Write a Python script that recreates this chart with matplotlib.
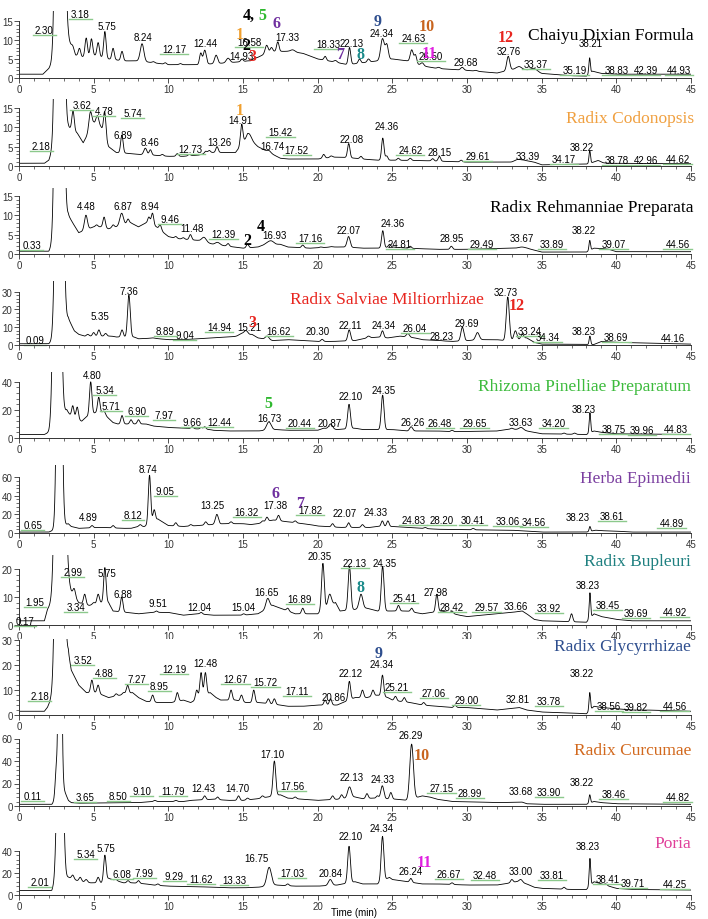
import numpy as np
import matplotlib
matplotlib.use('Agg')
import matplotlib.pyplot as plt
from matplotlib.ticker import MultipleLocator, FixedLocator
from matplotlib.transforms import offset_copy

# ---- Chaiyu Dixian Formula ----
chaiyu_base_t = [0, 1.6, 2.0, 3.3, 3.8, 4.2, 5.0, 6.0, 7.0, 8.0, 9.0, 10.0, 12.0, 14.0, 15.5, 16.3, 17.0, 18.0, 19.0,
                 20.0, 21.0, 22.0, 23.0, 24.0, 25.0, 26.0, 27.0, 28.0, 30.0, 32.0, 33.3, 34.3, 35.0, 37.0, 38.0, 38.4,
                 39.0, 40.0, 45.0]
chaiyu_base_v = [1.0, 1.0, 2.5, 10.0, 6.0, 5.5, 6.0, 5.0, 4.5, 4.5, 4.0, 3.5, 3.5, 4.0, 4.5, 6.0, 7.0, 7.0, 6.5,
                 5.0, 4.3, 3.5, 4.0, 4.5, 5.0, 4.5, 3.2, 2.5, 2.0, 1.3, 2.5, 2.0, 1.2, 0.6, 0.5, 1.8,
                 1.2, 1.0, 1.0]
chaiyu_solvent = [(2.75, 300, 0.18)]
chaiyu_peaks = [(3.6, 8.5), (4.05, 7.8), (4.5, 10.5), (4.85, 10.3), (5.3, 9.3), (5.75, 12.2), (6.3, 7.8), (6.9, 7.0),
                (8.24, 9.0, 0.12), (9.0, 4.3), (9.8, 4.0), (10.8, 3.8), (12.17, 6.5), (12.44, 7.3, 0.1),
                (13.2, 6.0, 0.1), (14.0, 5.2, 0.12), (14.93, 5.0), (15.3, 4.5), (15.75, 5.2, 0.1), (16.58, 8.6, 0.1),
                (16.9, 8.0), (17.33, 9.5), (18.33, 7.4, 0.15), (20.5, 5.7), (21.2, 4.6, 0.1), (22.13, 8.0),
                (22.8, 5.0), (23.4, 5.0), (24.34, 10.3, 0.12), (24.63, 8.7, 0.1), (26.3, 7.4, 0.1), (26.55, 6.0),
                (27.0, 4.0, 0.1), (28.1, 2.8, 0.1), (29.68, 2.8, 0.1), (30.6, 2.0, 0.1), (32.76, 5.7, 0.1),
                (33.5, 3.0, 0.15), (34.5, 2.5, 0.2), (38.21, 5.3, 0.05)]
chaiyu_labels = [('2.30', 1.7, 12.7, 1), ('3.18', 4.1, 16.9, 1), ('5.75', 5.9, 13.6, 0), ('8.24', 8.3, 10.8, 0),
                 ('12.17', 10.4, 7.7, 1), ('12.44', 12.5, 9.2, 0), ('16.58', 15.4, 9.4, 1), ('14.93', 14.9, 5.9, 0),
                 ('17.33', 18.0, 10.9, 0), ('18.33', 20.7, 9.0, 1), ('22.13', 22.3, 9.2, 0), ('24.34', 24.3, 11.9, 0),
                 ('24.63', 26.4, 10.6, 1), ('26.50', 27.6, 5.9, 1), ('29.68', 29.9, 4.1, 0), ('32.76', 32.8, 7.2, 0),
                 ('33.37', 34.6, 3.7, 1), ('35.19', 37.2, 2.2, 1), ('38.21', 38.3, 9.2, 0), ('38.83', 40.0, 2.1, 1),
                 ('42.39', 42.0, 2.1, 1), ('44.93', 44.2, 2.1, 1)]
chaiyu_marks = [('4,', 15.4, 16.5, 'black'), ('5', 16.3, 16.5, '#2EB82E'), ('1', 14.8, 11.6, '#F0A030'),
                ('2', 15.25, 8.8, 'black'), ('3', 15.65, 5.9, '#E8251F'), ('6', 17.25, 14.5, '#7030A0'),
                ('7', 21.5, 6.4, '#7030A0'), ('8', 22.9, 6.4, '#1A8A8A'), ('9', 24.0, 14.9, '#2E4E8E'),
                ('10', 27.3, 13.6, '#C8641E'), ('11', 27.5, 6.5, '#E020E0'), ('12', 32.6, 10.8, '#E8251F')]

# ---- Radix Codonopsis ----
codon_base_t = [0, 1.7, 2.0, 2.2, 3.3, 3.9, 4.3, 5.0, 5.5, 6.0, 6.5, 7.5, 8.0, 9.0, 10.0, 11.0, 12.0, 12.8, 13.5, 14.5,
                15.3, 16.0, 17.0, 17.5, 18.0, 20.0, 21.0, 22.0, 23.0, 24.0, 25.0, 27.0, 28.5, 30.0, 33.0, 33.8, 34.5,
                35.0, 38.0, 38.5, 39.5, 45]
codon_base_v = [0.7, 0.7, 1.5, 3.5, 10, 8.5, 6, 11, 10, 5, 3.5, 3.2, 3, 2.8, 2.5, 2.5, 2.8, 3.5, 3.5, 3.5,
                7.5, 5, 3, 2, 1.8, 1.8, 2.3, 2.2, 1.8, 1.5, 1.5, 1.4, 1.2, 1.0, 1.0, 1.5, 1.0,
                0.3, 0.5, 1.0, 0.7, 0.6]
codon_solvent = [(2.72, 300, 0.17)]
codon_peaks = [(3.62, 14.2), (4.78, 14.0, 0.1), (5.25, 13.0, 0.1), (5.74, 14.0), (6.89, 8.0), (8.46, 4.6, 0.1),
               (8.8, 4.2), (9.6, 3.0), (10.6, 3.2), (11.4, 3.0), (12.5, 3.8), (12.73, 4.0), (13.26, 5.0),
               (14.91, 10.8), (15.42, 8.3, 0.15), (16.74, 4.0, 0.12), (20.4, 3.0), (20.9, 2.6), (22.08, 5.8),
               (22.9, 2.5), (24.36, 7.2), (24.62, 2.6), (25.4, 2.0), (26.2, 2.0), (27.7, 1.9), (28.15, 2.5),
               (29.61, 1.5), (33.39, 1.7, 0.2), (38.22, 4.0, 0.05), (38.78, 1.4, 0.15)]
codon_labels = [('2.18', 1.5, 5.1, 1), ('3.62', 4.2, 15.8, 1), ('4.78', 5.7, 14.3, 1), ('5.74', 7.6, 13.6, 1),
                ('6.89', 6.95, 8.0, 0), ('8.46', 8.8, 6.1, 0), ('12.73', 11.5, 4.3, 1), ('13.26', 13.4, 6.1, 0),
                ('14.91', 14.8, 11.9, 0), ('15.42', 17.5, 8.8, 1), ('16.74', 17.0, 5.2, 0), ('17.52', 18.6, 4.1, 1),
                ('22.08', 22.3, 7.1, 0), ('24.36', 24.6, 10.3, 0), ('24.62', 26.2, 4.1, 1), ('28.15', 28.2, 3.5, 0),
                ('29.61', 30.7, 2.5, 1), ('33.39', 34.1, 2.7, 0), ('34.17', 36.5, 1.8, 1), ('38.22', 37.7, 4.9, 0),
                ('38.78', 40.0, 1.5, 1), ('42.96', 42.0, 1.5, 1), ('44.62', 44.1, 1.8, 1)]
codon_marks = [('1', 14.8, 14.4, '#F0A030')]

# ---- Radix Rehmanniae Preparata ----
rehm_base_t = [0, 2.0, 2.2, 3.3, 3.6, 4.0, 5.0, 5.5, 6.0, 7.5, 8.0, 8.5, 9.2, 10.0, 10.5, 12.0, 13.0, 14.0, 15.0, 16.0,
               16.5, 17.5, 18.0, 19.5, 21.0, 22.0, 23.0, 24.0, 25.0, 26.0, 28.0, 30.0, 33.0, 34.0, 35.0, 38.0, 38.5,
               39.5, 40.0, 45]
rehm_base_v = [0.7, 0.7, 2.0, 10, 8, 5.5, 7, 7, 6.5, 8, 7, 8, 7, 4.5, 4, 3.5, 2.5, 2.0, 1.5, 1.8,
               2.5, 2.5, 1.8, 1.5, 1.8, 1.8, 1.5, 1.5, 1.8, 1.5, 1.2, 1.2, 1.5, 1.5, 0.5, 0.5, 1.5,
               1.2, 0.6, 0.6]
rehm_solvent = [(2.7, 300, 0.17)]
rehm_peaks = [(4.48, 10.0, 0.1), (5.2, 7.5), (5.7, 9.5), (6.3, 7.5), (6.87, 10.5, 0.12), (7.3, 9.0), (8.7, 9.5),
              (8.94, 10.5), (9.46, 7.5), (10.5, 4.5), (11.0, 4.2), (11.48, 5.0), (12.39, 4.3, 0.15),
              (13.3, 3.0, 0.15), (14.0, 2.7), (15.3, 2.5), (16.7, 3.0, 0.15), (16.93, 3.2, 0.15), (19.0, 2.3),
              (20.2, 1.8), (20.9, 1.9, 0.1), (22.07, 4.5, 0.1), (24.36, 6.0), (24.81, 2.5), (26.2, 2.0),
              (28.95, 2.0), (33.67, 1.8, 0.2), (38.22, 3.5, 0.05), (39.07, 1.4, 0.2)]
rehm_labels = [('0.33', 0.85, 2.3, 1), ('4.48', 4.5, 12.3, 0), ('6.87', 6.96, 12.3, 0), ('8.94', 8.8, 12.3, 0),
               ('9.46', 10.1, 9.0, 1), ('11.48', 11.6, 6.6, 0), ('12.39', 13.7, 5.2, 1), ('16.93', 17.1, 4.8, 0),
               ('17.16', 19.5, 4.1, 1), ('22.07', 22.1, 6.1, 0), ('24.36', 25.0, 7.9, 0), ('24.81', 25.5, 2.7, 1),
               ('28.95', 29.0, 4.1, 0), ('29.49', 31.0, 2.7, 1), ('33.67', 33.7, 4.1, 0), ('33.89', 35.7, 2.7, 1),
               ('38.22', 37.8, 6.1, 0), ('39.07', 39.8, 2.7, 1), ('44.56', 44.1, 2.5, 1)]
rehm_marks = [('2', 15.3, 3.6, 'black'), ('4', 16.2, 7.2, 'black')]

# ---- Radix Salviae Miltiorrhizae ----
salv_base_t = [0, 2.0, 2.2, 3.3, 3.7, 4.0, 4.4, 5.5, 6.2, 6.5, 7.7, 8.0, 9.0, 10.0, 11.0, 12.0, 13.0, 14.0, 15.0, 15.6,
               16.0, 17.0, 18.0, 19.0, 20.0, 21.0, 22.5, 23.0, 23.5, 24.0, 24.7, 25.5, 26.5, 27.0, 28.0, 29.0, 30.0,
               31.0, 32.0, 32.5, 33.5, 34.0, 34.5, 35.0, 38.0, 38.5, 39.0, 40.0, 45]
salv_base_v = [0.7, 0.7, 2.0, 15, 8, 6, 5, 5, 5, 4.5, 4.5, 3.5, 3.8, 3, 3, 3.5, 4, 4.5, 5, 6,
               4, 2.5, 3, 2.5, 2, 2, 2.5, 3.5, 4, 4.5, 4, 5, 4, 3, 2.5, 2, 2.5,
               3, 3, 2.5, 3, 4, 1.5, 0.5, 0.3, 0.3, 2, 1.5, 0.5]
salv_solvent = [(2.7, 400, 0.17)]
salv_peaks = [(4.6, 6.0), (5.0, 7.0), (5.35, 8.5), (5.8, 6.5), (6.9, 8.5), (7.36, 28.0, 0.09), (8.9, 4.0, 0.15),
              (14.94, 6.5, 0.2), (15.21, 7.5, 0.12), (16.62, 5.0, 0.12), (20.3, 3.2), (22.11, 8.5, 0.09),
              (23.4, 5.0, 0.1), (24.34, 8.0), (26.04, 6.5, 0.1), (28.23, 2.5), (29.69, 10.0, 0.1), (30.7, 7.0, 0.12),
              (32.73, 27.0, 0.1), (33.24, 8.0, 0.1), (33.7, 6.0, 0.1), (38.23, 5.0, 0.05)]
salv_labels = [('0.09', 1.07, 2.8, 1), ('5.35', 5.43, 16.4, 0), ('7.36', 7.38, 30.2, 0), ('8.89', 9.8, 7.9, 1),
               ('9.04', 11.1, 5.6, 1), ('14.94', 13.4, 9.9, 1), ('15.21', 15.4, 9.9, 0), ('16.62', 17.4, 7.6, 1),
               ('20.30', 20.0, 7.6, 0), ('22.11', 22.2, 11.1, 0), ('24.34', 24.4, 11.1, 0), ('26.04', 26.5, 9.4, 1),
               ('28.23', 28.3, 4.9, 0), ('29.69', 30.0, 12.5, 0), ('32.73', 32.6, 30.0, 0), ('33.24', 34.2, 8.1, 1),
               ('34.34', 35.4, 4.6, 1), ('38.23', 37.8, 8.1, 0), ('38.69', 40.0, 4.6, 1), ('44.16', 43.8, 3.7, 0)]
salv_marks = [('3', 15.6, 12.9, '#E8251F'), ('12', 33.3, 22.6, '#E8251F')]

# ---- Rhizoma Pinelliae Preparatum ----
pin_base_t = [0, 1.7, 2.0, 2.3, 3.2, 3.5, 4.2, 4.5, 5.1, 5.6, 6.0, 6.3, 6.6, 7.2, 7.8, 8.5, 9.0, 10.0, 11.0, 12.8,
              13.0, 14.0, 16.0, 17.2, 18.0, 20.0, 20.4, 21.3, 22.5, 23.0, 24.0, 25.0, 26.0, 27.0, 28.0, 29.0, 31.0,
              32.0, 33.0, 34.0, 34.5, 35.0, 38.0, 38.5, 39.0, 40.0, 45]
pin_base_v = [2.5, 2.5, 4, 8, 20, 15, 12, 15, 18, 18, 14, 11, 10, 10, 10, 10, 8.5, 7.5, 7, 6,
              5.5, 5, 5, 6, 5.5, 5.5, 7, 6, 7, 6, 6, 6, 5, 5, 5, 4.5, 4.8,
              5, 6.5, 5, 4, 3, 2.5, 5, 4, 3, 2.5]
pin_solvent = [(2.55, 400, 0.17)]
pin_peaks = [(3.6, 23), (3.9, 22), (4.8, 40), (5.34, 29), (5.71, 19), (6.9, 16), (7.5, 13), (8.0, 13), (11.6, 8),
             (12.2, 7.5), (12.44, 8), (16.73, 11.5, 0.15), (20.87, 10, 0.12), (22.1, 24, 0.09), (24.35, 30.5, 0.09),
             (26.26, 8, 0.1), (29.0, 5.5), (33.0, 7), (33.63, 7.5, 0.15), (36.5, 3.5), (37.2, 3.5),
             (38.23, 18, 0.05)]
pin_labels = [('4.80', 4.88, 44.8, 0), ('5.34', 5.73, 34.5, 1), ('5.71', 6.16, 22.9, 1), ('6.90', 7.87, 19.3, 1),
              ('7.97', 9.7, 16.4, 1), ('9.66', 11.6, 11.6, 1), ('12.44', 13.4, 11.6, 1), ('16.73', 16.8, 14.0, 0),
              ('20.44', 18.8, 10.8, 1), ('20.87', 20.8, 10.8, 0), ('22.10', 22.2, 29.6, 0), ('24.35', 24.4, 34.5, 0),
              ('26.26', 26.4, 11.6, 0), ('26.48', 28.2, 10.8, 1), ('29.65', 30.5, 10.8, 1), ('33.63', 33.6, 11.6, 0),
              ('34.20', 35.8, 10.8, 1), ('38.23', 37.8, 20.7, 0), ('38.75', 39.8, 6.3, 1), ('39.96', 41.7, 5.5, 1),
              ('44.83', 44.0, 6.3, 1)]
pin_marks = [('5', 16.7, 24.8, '#2EB82E')]

# ---- Herba Epimedii ----
epi_base_t = [0, 2.0, 2.3, 3.3, 3.5, 4.0, 5.5, 7.0, 7.5, 8.0, 8.4, 9.3, 9.6, 10.0, 11.0, 12.0, 13.7, 15.0, 15.5, 16.0,
              17.0, 18.0, 19.0, 19.5, 20.0, 21.5, 23.5, 24.0, 25.0, 26.0, 27.0, 28.0, 30.0, 33.0, 34.0, 35.0, 38.0,
              38.6, 39.0, 40.0, 41.0, 45]
epi_base_v = [1, 1, 3, 10, 7, 5, 6, 5, 5, 7, 7, 15, 12, 8, 7, 8, 10, 10, 9, 10,
              14, 12, 10, 9, 7.5, 6, 6, 7, 7, 6, 5, 4, 3.5, 3, 2, 1, 1,
              3, 2.5, 2, 1, 1]
epi_solvent = [(2.7, 500, 0.13)]
epi_peaks = [(4.89, 8), (6.3, 8), (8.12, 9), (8.74, 62), (9.05, 25), (10.5, 11), (11.5, 9), (12.5, 12),
             (13.25, 20, 0.1), (14.2, 12), (16.32, 13), (16.6, 17), (17.38, 19), (18.5, 13), (21.0, 10), (22.07, 11),
             (23.0, 9), (24.33, 13), (24.7, 13), (27.2, 6), (30.41, 5), (38.23, 7, 0.05)]
epi_labels = [('0.65', 0.92, 8.1, 1), ('4.89', 4.64, 17.4, 0), ('8.12', 7.63, 19.5, 1), ('8.74', 8.63, 68.2, 0),
              ('9.05', 9.8, 45.2, 1), ('13.25', 12.97, 29.6, 0), ('16.32', 15.25, 22.7, 1), ('17.38', 17.2, 29.6, 0),
              ('17.82', 19.5, 24.3, 1), ('22.07', 21.8, 21.5, 0), ('24.33', 23.9, 22.7, 0), ('24.83', 26.4, 14.2, 1),
              ('28.20', 28.3, 14.2, 1), ('30.41', 30.4, 14.2, 1), ('33.06', 32.7, 12.6, 1), ('34.56', 34.5, 11.4, 1),
              ('38.23', 37.4, 17.4, 0), ('38.61', 39.7, 18.2, 1), ('44.89', 43.7, 10.5, 1)]
epi_marks = [('6', 17.2, 43, '#7030A0'), ('7', 18.8, 32.4, '#7030A0')]

# ---- Radix Bupleuri ----
bup_base_t = [0, 1.7, 1.9, 2.2, 3.3, 3.5, 4.0, 4.7, 5.5, 6.0, 6.3, 7.2, 8.0, 9.0, 10.0, 11.0, 12.0, 13.0, 15.0, 16.0,
              17.0, 18.5, 20.0, 21.2, 21.5, 23.3, 24.0, 25.2, 26.0, 27.0, 28.3, 29.5, 30.0, 31.0, 33.0, 33.7, 34.0,
              34.5, 35.0, 38.0, 38.5, 39.0, 40.0, 41.0, 45]
bup_base_v = [1.5, 1.5, 5.5, 8, 15, 12, 8, 7, 8, 8, 5, 4.5, 4, 4.5, 4.5, 3.5, 4, 3.5, 3.5, 4,
              7, 4, 4, 8, 5, 6, 5, 5, 5, 4, 5, 3.5, 3, 3.5, 4.5, 5, 4,
              2, 1.5, 1, 4, 3, 2, 1.5, 1.5]
bup_solvent = [(2.75, 300, 0.2)]
bup_peaks = [(3.7, 13), (4.4, 11), (5.0, 8), (5.3, 11), (5.75, 20.5), (6.88, 10), (9.2, 5), (12.2, 4.5), (15.04, 4),
             (16.65, 9.5, 0.12), (17.5, 6), (18.0, 6), (19.0, 6), (20.35, 22, 0.09), (20.8, 11, 0.12),
             (22.13, 21, 0.09), (22.9, 11, 0.12), (24.35, 21, 0.09), (25.41, 7), (26.3, 6), (27.98, 11), (29.0, 5),
             (37.0, 4), (38.23, 11.5, 0.05)]
bup_labels = [('0.17', 0.4, 1.4, 1), ('1.95', 1.07, 8.1, 1), ('2.99', 3.6, 19.0, 1), ('3.34', 3.8, 6.5, 1),
              ('5.75', 5.86, 18.6, 0), ('6.88', 6.95, 11.2, 0), ('9.51', 9.3, 7.75, 0), ('12.04', 12.05, 6.5, 0),
              ('15.04', 15.0, 6.5, 0), ('16.65', 16.6, 11.9, 0), ('16.89', 18.8, 9.3, 1), ('20.35', 20.1, 24.6, 0),
              ('22.13', 22.5, 22.3, 1), ('24.35', 24.5, 22.3, 0), ('25.41', 25.8, 9.6, 1), ('27.98', 27.9, 11.9, 0),
              ('28.42', 29.0, 6.5, 1), ('29.57', 31.3, 6.5, 1), ('33.66', 33.3, 6.8, 0), ('33.92', 35.5, 6.2, 1),
              ('38.23', 38.1, 14.3, 0), ('38.45', 39.4, 7.3, 1), ('39.69', 41.3, 4.2, 1), ('44.92', 43.9, 4.5, 1)]
bup_marks = [('8', 22.9, 13.4, '#1A8A8A')]

# ---- Radix Glycyrrhizae ----
gly_base_t = [0, 1.7, 1.9, 2.2, 3.3, 3.5, 4.0, 4.5, 5.1, 5.6, 6.0, 7.6, 8.0, 8.5, 9.3, 10.2, 11.0, 11.5, 12.8, 13.2,
              13.5, 14.5, 15.2, 16.0, 17.5, 18.0, 19.0, 20.0, 21.3, 22.5, 23.3, 24.0, 24.7, 25.0, 25.5, 26.2, 27.0,
              28.0, 29.0, 30.0, 31.0, 32.0, 33.5, 34.0, 35.0, 36.0, 37.0, 38.0, 38.5, 39.0, 40.0, 41.0, 42.0, 45]
gly_base_v = [1.5, 1.5, 3, 7, 25, 18, 12, 9, 9, 8, 7, 9, 7, 5.5, 5, 5, 6, 5, 9, 7,
              6, 6, 5, 5, 4, 3.5, 3.5, 4, 4, 7, 7, 8, 7, 6, 5.5, 5, 4,
              3.5, 3, 3, 2.5, 2, 3, 2, 1.2, 1, 0.8, 0.5, 3.5, 3, 2.5, 2, 2, 1.5]
gly_solvent = [(2.72, 300, 0.18)]
gly_peaks = [(4.88, 14), (5.3, 12), (6.5, 8.5), (7.0, 9), (7.27, 12), (8.95, 8), (10.6, 9), (11.9, 10), (12.19, 17),
             (12.48, 17), (14.2, 10), (14.9, 8), (15.72, 10), (16.7, 6.5), (17.1, 6.5), (20.5, 6), (20.86, 6.5),
             (22.12, 13.5), (23.0, 10), (23.7, 10), (24.34, 16), (25.21, 7.5), (25.8, 7), (27.1, 5), (29.2, 4),
             (38.22, 9, 0.05)]
gly_labels = [('2.18', 1.37, 7.8, 1), ('3.52', 4.27, 21.9, 1), ('4.88', 5.73, 17.0, 1), ('7.27', 7.87, 14.4, 1),
              ('8.95', 9.4, 11.5, 1), ('12.19', 10.4, 18.5, 1), ('12.48', 12.5, 20.7, 0), ('12.67', 14.5, 14.4, 1),
              ('15.72', 16.5, 13.3, 1), ('17.11', 18.6, 9.6, 1), ('20.86', 21.05, 7.4, 0), ('22.12', 22.2, 17.0, 0),
              ('24.34', 24.25, 20.4, 0), ('25.21', 25.3, 11.1, 1), ('27.06', 27.8, 8.7, 1), ('29.00', 29.95, 5.9, 1),
              ('32.81', 33.4, 6.5, 0), ('33.78', 35.5, 5.6, 1), ('38.22', 37.7, 17.0, 0), ('38.56', 39.5, 3.7, 1),
              ('39.82', 41.3, 3.3, 1), ('44.56', 43.9, 3.7, 1)]
gly_marks = [('9', 24.1, 25.0, '#2E4E8E')]

# ---- Radix Curcumae ----
cur_base_t = [0, 2.2, 2.4, 3.0, 3.3, 3.5, 4.0, 8.0, 9.0, 10.0, 11.0, 11.5, 13.0, 14.0, 15.0, 16.0, 17.5, 18.0, 19.0,
              20.0, 21.3, 22.5, 23.0, 23.7, 25.3, 26.0, 27.0, 27.5, 28.0, 29.0, 31.0, 32.0, 33.68, 34.0, 35.0, 38.0,
              38.5, 39.0, 40.0, 45]
cur_base_v = [1.5, 1.5, 5, 15, 5, 3, 2.5, 3, 4, 4, 4, 5, 6, 5, 5, 6.5, 10, 7, 6,
              5, 6, 8, 6.5, 7, 6, 5, 9, 8, 6, 4, 3.5, 3, 3.5, 2, 1.5, 1.5,
              4, 3, 2, 1.5]
cur_solvent = [(2.5, 25, 0.08), (2.75, 300, 0.09)]
cur_peaks = [(9.1, 5), (10.5, 5), (12.43, 9), (13.3, 8), (14.7, 9), (15.3, 7), (16.3, 9), (17.1, 40, 0.09),
             (18.5, 8), (21.0, 9), (21.6, 10), (22.13, 17, 0.12), (23.3, 11), (24.0, 9), (24.33, 18, 0.1),
             (24.9, 12), (26.29, 55, 0.12), (38.22, 10, 0.05)]
cur_labels = [('0.11', 0.92, 8.7, 1), ('3.65', 4.42, 7.7, 1), ('8.50', 6.65, 8.7, 1), ('9.10', 8.2, 13.2, 1),
              ('11.79', 10.3, 13.2, 1), ('12.43', 12.35, 15.7, 0), ('14.70', 14.6, 15.7, 0), ('17.10', 17.0, 46.0, 0),
              ('17.56', 18.3, 18.1, 1), ('22.13', 22.3, 26.1, 0), ('24.33', 24.35, 24.4, 0), ('26.29', 26.2, 63.4, 0),
              ('27.15', 28.3, 15.7, 1), ('28.99', 30.2, 11.5, 1), ('33.68', 33.6, 12.9, 0), ('33.90', 35.5, 12.2, 1),
              ('38.22', 37.7, 20.9, 0), ('38.46', 39.8, 11.1, 1), ('44.82', 44.1, 7.7, 1)]
cur_marks = [('10', 27.0, 45.3, '#C8641E')]

# ---- Poria ----
por_base_t = [0, 2.2, 2.4, 3.3, 3.9, 4.3, 4.8, 5.5, 6.0, 7.0, 7.6, 8.5, 9.0, 10.0, 12.0, 14.0, 15.0, 16.0, 17.2, 18.5,
              20.0, 21.3, 22.5, 23.0, 24.0, 24.8, 25.0, 26.0, 26.5, 27.0, 28.0, 30.0, 32.0, 32.5, 33.3, 34.0, 34.5,
              35.0, 36.0, 37.0, 38.0, 38.5, 39.0, 40.0, 41.0, 45]
por_base_v = [4, 4, 10, 16, 13, 12, 11, 11, 15, 11, 11, 10, 9, 8, 7.5, 6.5, 6.5, 7, 9, 8,
              8, 9, 12, 10, 10, 16, 14, 12, 11, 10, 10, 9, 9, 10, 12, 10, 7,
              6, 5.5, 5, 5, 12, 10, 6, 5, 4.5]
por_solvent = [(2.75, 300, 0.15)]
por_peaks = [(3.6, 18), (4.1, 16), (4.5, 14), (5.3, 16), (5.75, 36), (6.5, 14), (7.3, 13), (8.0, 13), (9.3, 10),
             (16.75, 25, 0.15), (18.0, 10), (20.84, 14, 0.12), (22.1, 44, 0.09), (24.34, 53, 0.09), (26.24, 15),
             (29.0, 11), (33.0, 14), (33.6, 14, 0.12), (36.5, 7), (38.23, 33, 0.05), (39.3, 10)]
por_labels = [('2.01', 1.37, 11.5, 1), ('5.34', 4.45, 37.0, 1), ('5.75', 5.8, 42.0, 0), ('6.08', 6.9, 19.0, 1),
              ('7.99', 8.4, 19.7, 1), ('9.29', 10.4, 17.0, 1), ('11.62', 12.2, 14.8, 1), ('13.33', 14.4, 13.1, 1),
              ('16.75', 15.9, 33.4, 0), ('17.03', 18.3, 20.3, 1), ('20.84', 20.9, 19.7, 0), ('22.10', 22.2, 53.0, 0),
              ('24.34', 24.25, 60.7, 0), ('26.24', 26.2, 21.3, 0), ('26.67', 28.8, 19.0, 1), ('32.48', 31.2, 18.0, 1),
              ('33.00', 33.6, 21.3, 0), ('33.81', 35.7, 18.0, 1), ('38.23', 38.1, 44.3, 0), ('38.41', 39.4, 14.8, 1),
              ('39.71', 41.1, 10.5, 1), ('44.25', 43.9, 9.8, 1)]
por_marks = [('11', 27.15, 29.5, '#E020E0')]

# name, colour, title x, title y, top tick, tick step, ymax, zero (px from top), height (px)
panels = [
    ('Chaiyu Dixian Formula', 'black', 45.2, 11.4, 15, 5, 17.6, 79, 67,
     chaiyu_base_t, chaiyu_base_v, chaiyu_solvent, chaiyu_peaks, chaiyu_labels, chaiyu_marks),
    ('Radix Codonopsis', '#F0A040', 45.2, 12.4, 15, 5, 17.3, 167, 67,
     codon_base_t, codon_base_v, codon_solvent, codon_peaks, codon_labels, codon_marks),
    ('Radix Rehmanniae Preparata', 'black', 45.2, 12.2, 15, 5, 17.0, 255, 66,
     rehm_base_t, rehm_base_v, rehm_solvent, rehm_peaks, rehm_labels, rehm_marks),
    ('Radix Salviae Miltiorrhizae', '#E8251F', 31.1, 25.8, 30, 10, 36.0, 346, 64,
     salv_base_t, salv_base_v, salv_solvent, salv_peaks, salv_labels, salv_marks),
    ('Rhizoma Pinelliae Preparatum', '#3DBB3D', 45.0, 36.9, 40, 20, 47.0, 439, 66,
     pin_base_t, pin_base_v, pin_solvent, pin_peaks, pin_labels, pin_marks),
    ('Herba Epimedii', '#7B3FA0', 45.0, 58.8, 60, 20, 73.0, 534, 68,
     epi_base_t, epi_base_v, epi_solvent, epi_peaks, epi_labels, epi_marks),
    ('Radix Bupleuri', '#1F8080', 45.0, 22.8, 20, 10, 25.0, 626, 70,
     bup_base_t, bup_base_v, bup_solvent, bup_peaks, bup_labels, bup_marks),
    ('Radix Glycyrrhizae', '#2E4E8E', 45.0, 27.8, 30, 10, 30.5, 716, 76,
     gly_base_t, gly_base_v, gly_solvent, gly_peaks, gly_labels, gly_marks),
    ('Radix Curcumae', '#D2691E', 45.0, 49.5, 60, 20, 64.0, 807, 72,
     cur_base_t, cur_base_v, cur_solvent, cur_peaks, cur_labels, cur_marks),
    ('Poria', '#E0409A', 45.0, 46.6, 40, 20, 56.0, 896, 62,
     por_base_t, por_base_v, por_solvent, por_peaks, por_labels, por_marks),
]


def build_trace(t, base_t, base_v, solvent, peaks):
    y = np.interp(t, base_t, base_v)
    for c, h, s in solvent:
        y = y + h * np.exp(-0.5 * ((t - c) / s) ** 2)
    for p in peaks:
        rt, top = p[0], p[1]
        s = p[2] if len(p) > 2 else 0.08
        amp = max(top - np.interp(rt, base_t, base_v), 0)
        y = y + amp * np.exp(-0.5 * ((t - rt) / s) ** 2)
    return y


W, H = 708, 920
fig = plt.figure(figsize=(W / 100, H / 100), dpi=100)
t = np.arange(0, 45.001, 0.01)
num_font = 'Liberation Sans'
serif = 'Liberation Serif'

for (name, col, tx, ty, ytop, ystep, ymax, zero_px, h_px,
     base_t, base_v, solvent, peaks, labels, marks) in panels:
    ax = fig.add_axes([19 / W, 1 - zero_px / H, 672 / W, h_px / H])
    ax.plot(t, build_trace(t, base_t, base_v, solvent, peaks), color='black', lw=0.6)
    ax.set_xlim(0, 45)
    ax.set_ylim(0, ymax)
    for s in ('top', 'right'):
        ax.spines[s].set_visible(False)
    ax.spines['left'].set_bounds(0, ytop)
    for s in ('left', 'bottom'):
        ax.spines[s].set_linewidth(0.7)
        ax.spines[s].set_color('#333333')
    ax.xaxis.set_major_locator(MultipleLocator(5))
    ax.xaxis.set_minor_locator(MultipleLocator(1))
    ax.set_yticks(np.arange(0, ytop + 0.1, ystep))
    # minor y ticks only up to the top tick
    ax.yaxis.set_minor_locator(FixedLocator(
        [v for v in np.arange(0, ytop + 0.01, ystep / 5) if v % ystep]))
    ax.tick_params(which='major', direction='out', length=3.5, width=0.6, labelsize=7, pad=1, colors='#333333')
    ax.tick_params(which='minor', direction='out', length=2, width=0.5, colors='#333333')
    for lab in ax.get_xticklabels() + ax.get_yticklabels():
        lab.set_fontfamily(num_font)

    green_tr = offset_copy(ax.transData, fig=fig, y=-5, units='dots')
    for txt, x, y, g in labels:
        ax.text(x, y, txt, fontsize=7, family=num_font, ha='center', va='center', clip_on=False)
        if g:
            hw = 0.19 * len(txt)
            ax.plot([x - hw, x + hw], [y, y], color='#8cc98c', lw=1.0, transform=green_tr, clip_on=False)
    for txt, x, y, c in marks:
        ax.text(x, y, txt, fontsize=11.5, family=serif, fontweight='bold', color=c,
                ha='center', va='center', clip_on=False)
    ax.text(tx, ty, name, fontsize=12.5, family=serif, color=col, ha='right', va='center', clip_on=False)

fig.text(354 / W, 1 - 913 / H, 'Time (min)', fontsize=7, family=num_font, ha='center', va='center')
fig.savefig('out.png', dpi=100)
